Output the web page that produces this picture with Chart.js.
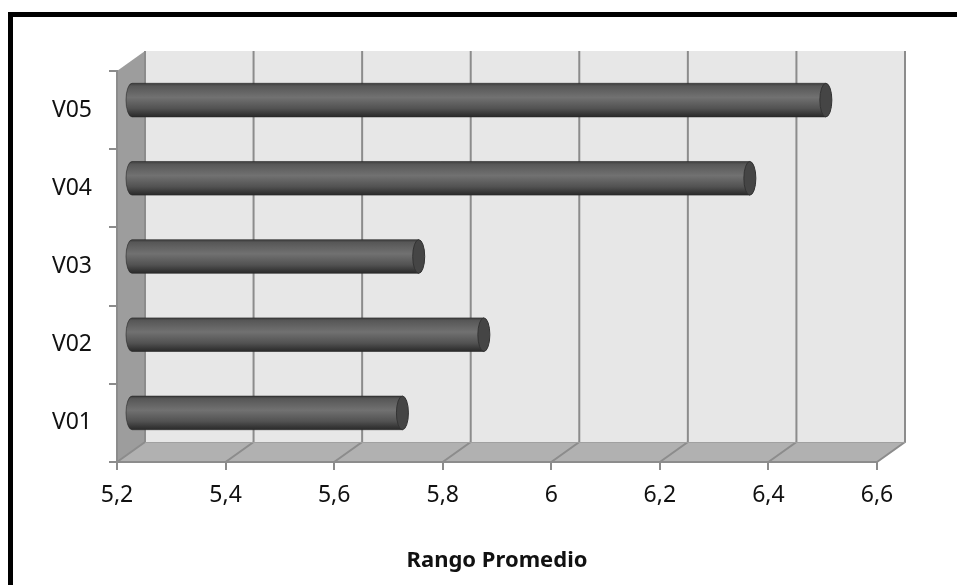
<!DOCTYPE html>
<html>
<head>
<meta charset="utf-8">
<script src="https://cdn.jsdelivr.net/npm/chart.js@4.4.1/dist/chart.umd.min.js"></script>
<style>
    html, body { margin: 0; padding: 0; background: #fff; overflow: hidden; }
    #frame {
        position: absolute; left: 8px; top: 12px;
        width: 1000px; height: 700px;
        border-left: 5px solid #000; border-top: 5px solid #000;
    }
    #wrap { position: absolute; left: 0; top: 0; width: 957px; height: 585px; }
</style>
</head>
<body>
<div id="frame"></div>
<div id="wrap"><canvas id="rango-chart" width="957" height="585"></canvas></div>
<script>
    const categories = ['V01', 'V02', 'V03', 'V04', 'V05'];
    const rangoPromedio = [5.70, 5.85, 5.73, 6.34, 6.48];
    const xTicks = [5.2, 5.4, 5.6, 5.8, 6.0, 6.2, 6.4, 6.6];

    // depth of the 3D box (back wall is shifted right and up)
    const DEPTH_X = 28;
    const DEPTH_Y = -20;
    const GRID = '#8c8c8c';

    const box3d = {
        id: 'box3d',
        beforeDraw(chart) {
            const { ctx, chartArea: a, scales } = chart;
            const L = a.left, R = a.right, T = a.top, B = a.bottom;
            ctx.save();
            // back wall
            ctx.fillStyle = '#e7e7e7';
            ctx.fillRect(L + DEPTH_X, T + DEPTH_Y, R - L, B - T);
            // left wall
            ctx.fillStyle = '#9d9d9d';
            ctx.beginPath();
            ctx.moveTo(L, T);
            ctx.lineTo(L + DEPTH_X, T + DEPTH_Y);
            ctx.lineTo(L + DEPTH_X, B + DEPTH_Y);
            ctx.lineTo(L, B);
            ctx.closePath();
            ctx.fill();
            // floor
            ctx.fillStyle = '#b1b1b1';
            ctx.beginPath();
            ctx.moveTo(L, B);
            ctx.lineTo(L + DEPTH_X, B + DEPTH_Y);
            ctx.lineTo(R + DEPTH_X, B + DEPTH_Y);
            ctx.lineTo(R, B);
            ctx.closePath();
            ctx.fill();

            // grid lines on back wall and floor
            ctx.strokeStyle = GRID;
            ctx.lineWidth = 2;
            xTicks.forEach(v => {
                const x = scales.x.getPixelForValue(v);
                ctx.beginPath();
                ctx.moveTo(x + DEPTH_X, T + DEPTH_Y);
                ctx.lineTo(x + DEPTH_X, B + DEPTH_Y);
                ctx.lineTo(x, B);
                ctx.stroke();
            });
            ctx.lineWidth = 1;
            ctx.strokeStyle = '#a0a0a0';
            ctx.beginPath();
            ctx.moveTo(L + DEPTH_X, B + DEPTH_Y + 0.5);
            ctx.lineTo(R + DEPTH_X, B + DEPTH_Y + 0.5);
            ctx.stroke();
            ctx.restore();
        },
        afterDatasetsDraw(chart) {
            const { ctx } = chart;
            const meta = chart.getDatasetMeta(0);
            ctx.save();
            meta.data.forEach(bar => {
                const x0 = bar.base + DEPTH_X / 2;
                const x1 = bar.x + DEPTH_X / 2;
                const cy = bar.y + DEPTH_Y / 2;
                drawCylinder(ctx, x0, x1, cy, bar.height / 2);
            });
            ctx.restore();
        }
    };

    function drawCylinder(ctx, x0, x1, cy, r) {
        const rx = 6;
        const g = ctx.createLinearGradient(0, cy - r, 0, cy + r);
        g.addColorStop(0, '#3c3c3c');
        g.addColorStop(0.08, '#575757');
        g.addColorStop(0.42, '#717171');
        g.addColorStop(0.75, '#525252');
        g.addColorStop(0.92, '#363636');
        g.addColorStop(1, '#2a2a2a');
        ctx.fillStyle = g;
        ctx.beginPath();
        ctx.moveTo(x1, cy - r);
        ctx.lineTo(x0, cy - r);
        ctx.ellipse(x0, cy, rx, r, 0, -Math.PI / 2, Math.PI / 2, true);
        ctx.lineTo(x1, cy + r);
        ctx.closePath();
        ctx.fill();
        ctx.strokeStyle = 'rgba(40,40,40,0.6)';
        ctx.lineWidth = 1;
        ctx.stroke();

        // end cap
        ctx.beginPath();
        ctx.ellipse(x1, cy, rx, r, 0, 0, Math.PI * 2);
        ctx.fillStyle = '#454545';
        ctx.fill();
        ctx.strokeStyle = '#333';
        ctx.stroke();
    }

    const ctx = document.getElementById('rango-chart');
    new Chart(ctx, {
        type: 'bar',
        data: {
            labels: categories,
            datasets: [{
                label: 'Rango Promedio',
                data: rangoPromedio,
                backgroundColor: 'rgba(0,0,0,0)',
                borderWidth: 0,
                categoryPercentage: 1,
                barPercentage: 0.43,
                base: 5.2
            }]
        },
        options: {
            indexAxis: 'y',
            responsive: false,
            animation: false,
            layout: { padding: { top: 71, right: 80, bottom: 0, left: 0 } },
            plugins: {
                legend: { display: false },
                tooltip: { enabled: false }
            },
            scales: {
                x: {
                    min: 5.2,
                    max: 6.6,
                    afterFit: (s) => { s.height = 123; },
                    afterBuildTicks: (s) => { s.ticks = xTicks.map(v => ({ value: v })); },
                    ticks: {
                        color: '#111',
                        padding: 12,
                        font: { family: 'Noto Sans', size: 23 },
                        callback: (v) => String(Math.round(v * 10) / 10).replace('.', ',')
                    },
                    grid: { drawOnChartArea: false, color: GRID, lineWidth: 2, tickLength: 8 },
                    border: { color: GRID, width: 2 },
                    title: {
                        display: true,
                        text: 'Rango Promedio',
                        color: '#111',
                        font: { family: 'Noto Sans', size: 22, weight: 'bold' },
                        padding: { top: 0, bottom: 11 }
                    }
                },
                y: {
                    reverse: true,
                    afterFit: (s) => { s.width = 117; },
                    ticks: {
                        color: '#111',
                        padding: 17,
                        font: { family: 'Noto Sans', size: 23 }
                    },
                    grid: { drawOnChartArea: false, color: GRID, lineWidth: 2, tickLength: 8 },
                    border: { color: GRID, width: 2 }
                }
            }
        },
        plugins: [box3d]
    });
</script>
</body>
</html>
